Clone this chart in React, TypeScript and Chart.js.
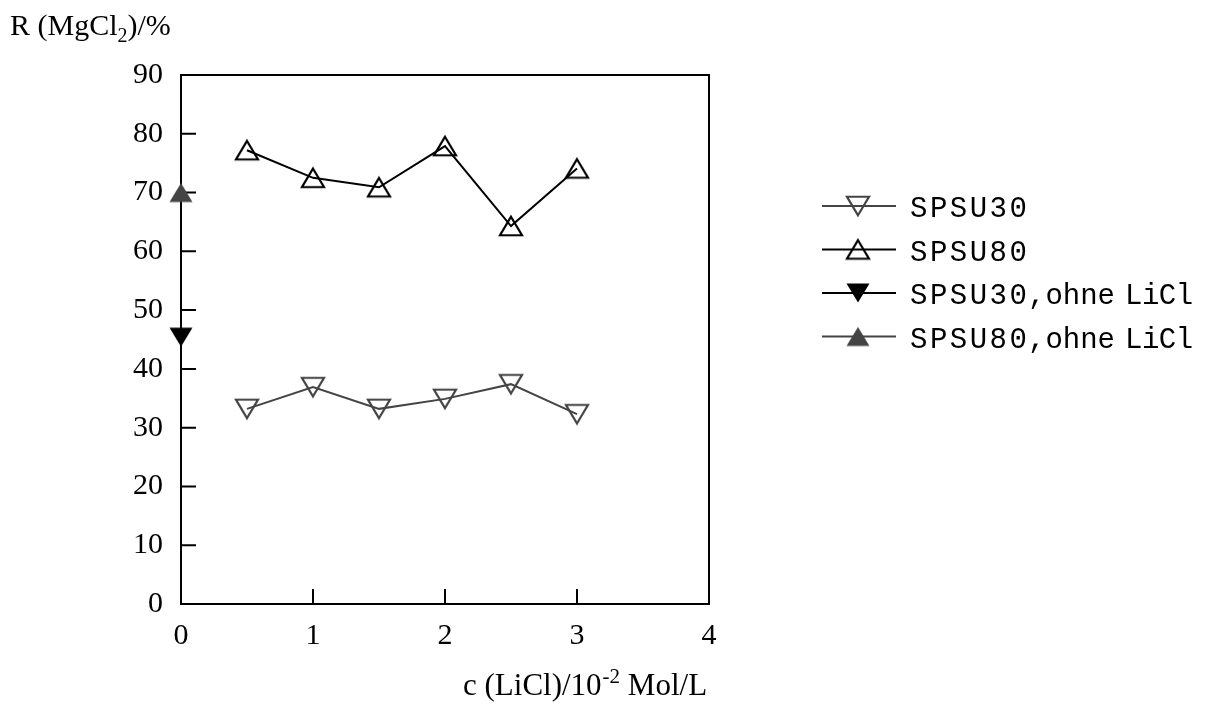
import React, { useEffect, useRef } from "react";
import { Chart, registerables } from "chart.js";

Chart.register(...registerables);

// ---- data ----
const xValues = [0.5, 1, 1.5, 2, 2.5, 3];
const spsu30 = [33.2, 36.9, 33.2, 34.9, 37.4, 32.3];
const spsu80 = [77.2, 72.5, 70.9, 77.9, 64.3, 74.1];
const xOhne = [0];
const spsu30Ohne = [45.4];
const spsu80Ohne = [70.0];
const seriesLabels = ["SPSU30", "SPSU80", "SPSU30,ohne LiCl", "SPSU80,ohne LiCl"];
const xTicks = [0, 1, 2, 3, 4];
const yTicks = [0, 10, 20, 30, 40, 50, 60, 70, 80, 90];

const GRAY = "#444444";
const BLACK = "#000000";
const SERIF = "'Liberation Serif', 'Times New Roman', serif";
const MONO = "'Liberation Mono', 'Courier New', monospace";

function makeTriangle(up: boolean, fill: string | null, stroke: string | null, side: number, height: number) {
  const c = document.createElement("canvas");
  c.width = 30;
  c.height = 28;
  const g = c.getContext("2d") as CanvasRenderingContext2D;
  const cx = 15, cy = 14;
  const hs = side / 2, hh = height / 2;
  g.beginPath();
  if (up) {
    g.moveTo(cx, cy - hh);
    g.lineTo(cx + hs, cy + hh);
    g.lineTo(cx - hs, cy + hh);
  } else {
    g.moveTo(cx, cy + hh);
    g.lineTo(cx + hs, cy - hh);
    g.lineTo(cx - hs, cy - hh);
  }
  g.closePath();
  if (fill) {
    g.fillStyle = fill;
    g.fill();
  }
  if (stroke) {
    g.lineWidth = 2.2;
    g.lineJoin = "miter";
    g.strokeStyle = stroke;
    g.stroke();
  }
  return c;
}

export default function App() {
  const ref = useRef<HTMLCanvasElement | null>(null);

  useEffect(() => {
    const canvas = ref.current;
    if (!canvas) return;

    const mk30 = makeTriangle(false, null, GRAY, 22, 18.5);
    const mk80 = makeTriangle(true, null, BLACK, 22, 18.5);
    const mk30o = makeTriangle(false, BLACK, null, 23, 19);
    const mk80o = makeTriangle(true, GRAY, null, 23, 19);
    const markers = [mk30, mk80, mk30o, mk80o];
    const lineColors = [GRAY, BLACK, BLACK, GRAY];

    const framePlugin = {
      id: "frame",
      beforeDatasetsDraw(chart: any) {
        const { ctx, chartArea: a, scales } = chart;
        const xs = scales.x, ys = scales.y;
        ctx.save();
        ctx.strokeStyle = BLACK;
        ctx.lineWidth = 2;
        ctx.strokeRect(a.left, a.top, a.right - a.left, a.bottom - a.top);
        ctx.beginPath();
        yTicks.forEach((v) => {
          if (v === yTicks[0] || v === yTicks[yTicks.length - 1]) return;
          const py = ys.getPixelForValue(v);
          ctx.moveTo(a.left, py);
          ctx.lineTo(a.left + 15, py);
        });
        xTicks.forEach((v) => {
          if (v === xTicks[0] || v === xTicks[xTicks.length - 1]) return;
          const px = xs.getPixelForValue(v);
          ctx.moveTo(px, a.bottom);
          ctx.lineTo(px, a.bottom - 15);
        });
        ctx.stroke();
        ctx.restore();
      },
    };

    const textPlugin = {
      id: "texts",
      afterDraw(chart: any) {
        const { ctx } = chart;
        ctx.save();
        ctx.fillStyle = BLACK;
        ctx.textBaseline = "alphabetic";
        ctx.textAlign = "left";
        // y-axis title: R (MgCl2)/%
        ctx.font = `30px ${SERIF}`;
        let x = 10;
        ctx.fillText("R (MgCl", x, 35);
        x += ctx.measureText("R (MgCl").width;
        ctx.font = `20px ${SERIF}`;
        ctx.fillText("2", x, 42);
        x += ctx.measureText("2").width;
        ctx.font = `30px ${SERIF}`;
        ctx.fillText(")/%", x, 35);

        // x-axis title: c (LiCl)/10^-2 Mol/L
        x = 463;
        ctx.font = `31px ${SERIF}`;
        ctx.fillText("c (LiCl)/10", x, 695);
        x += ctx.measureText("c (LiCl)/10").width;
        ctx.font = `21px ${SERIF}`;
        ctx.fillText("-2", x + 1, 683);
        x += ctx.measureText("-2").width + 1;
        ctx.font = `31px ${SERIF}`;
        ctx.fillText(" Mol/L", x, 695);

        // legend
        const rowY0 = 206;
        const rowStep = 43.5;
        seriesLabels.forEach((lab, i) => {
          const ry = rowY0 + i * rowStep;
          ctx.strokeStyle = lineColors[i];
          ctx.lineWidth = 2;
          ctx.beginPath();
          ctx.moveTo(822, ry);
          ctx.lineTo(896, ry);
          ctx.stroke();
          const m = markers[i];
          ctx.drawImage(m, 858 - m.width / 2, ry - m.height / 2);
          ctx.font = `29px ${MONO}`;
          const base = ry + 11;
          const parts = lab.split(",");
          (ctx as any).letterSpacing = "2.5px";
          ctx.fillText(parts[0], 910, base);
          (ctx as any).letterSpacing = "0px";
          if (parts.length > 1) {
            const sub = parts[1].split(" ");
            ctx.fillText("," + sub[0], 1028, base);
            (ctx as any).letterSpacing = "-0.5px";
            ctx.fillText(sub[1], 1125, base);
            (ctx as any).letterSpacing = "0px";
          }
        });
        ctx.restore();
      },
    };

    const chart = new Chart(canvas, {
      type: "line",
      data: {
        datasets: [
          {
            label: seriesLabels[0],
            data: xValues.map((xv, i) => ({ x: xv, y: spsu30[i] })),
            borderColor: GRAY,
            borderWidth: 2,
            pointStyle: mk30 as any,
            pointRadius: 10,
            tension: 0,
            clip: false as any,
          },
          {
            label: seriesLabels[1],
            data: xValues.map((xv, i) => ({ x: xv, y: spsu80[i] })),
            borderColor: BLACK,
            borderWidth: 2,
            pointStyle: mk80 as any,
            pointRadius: 10,
            tension: 0,
            clip: false as any,
          },
          {
            label: seriesLabels[2],
            data: xOhne.map((xv, i) => ({ x: xv, y: spsu30Ohne[i] })),
            borderColor: BLACK,
            borderWidth: 2,
            pointStyle: mk30o as any,
            pointRadius: 10,
            clip: false as any,
          },
          {
            label: seriesLabels[3],
            data: xOhne.map((xv, i) => ({ x: xv, y: spsu80Ohne[i] })),
            borderColor: GRAY,
            borderWidth: 2,
            pointStyle: mk80o as any,
            pointRadius: 10,
            clip: false as any,
          },
        ],
      },
      options: {
        animation: false,
        responsive: false,
        devicePixelRatio: 1,
        layout: { padding: { left: 0, top: 75, right: 501, bottom: 0 } },
        plugins: {
          legend: { display: false },
          tooltip: { enabled: false },
        },
        scales: {
          x: {
            type: "linear",
            min: 0,
            max: 4,
            afterBuildTicks: (s: any) => {
              s.ticks = xTicks.map((v) => ({ value: v }));
            },
            ticks: {
              stepSize: 1,
              color: BLACK,
              font: { family: SERIF, size: 30 },
              padding: 14,
              maxRotation: 0,
            },
            grid: { display: false, drawTicks: false },
            border: { display: false },
            afterFit: (s: any) => {
              s.height = 100;
            },
          },
          y: {
            type: "linear",
            min: 0,
            max: 90,
            afterBuildTicks: (s: any) => {
              s.ticks = yTicks.map((v) => ({ value: v }));
            },
            ticks: {
              stepSize: 10,
              color: BLACK,
              font: { family: SERIF, size: 30 },
              padding: 18,
            },
            grid: { display: false, drawTicks: false },
            border: { display: false },
            afterFit: (s: any) => {
              s.width = 181;
            },
          },
        },
      } as any,
      plugins: [framePlugin, textPlugin],
    });

    return () => chart.destroy();
  }, []);

  return (
    <div style={{ position: "absolute", left: 0, top: 0, width: 1210, height: 704, background: "#fff" }}>
      <canvas ref={ref} width={1210} height={704} style={{ display: "block", width: 1210, height: 704 }} />
    </div>
  );
}
